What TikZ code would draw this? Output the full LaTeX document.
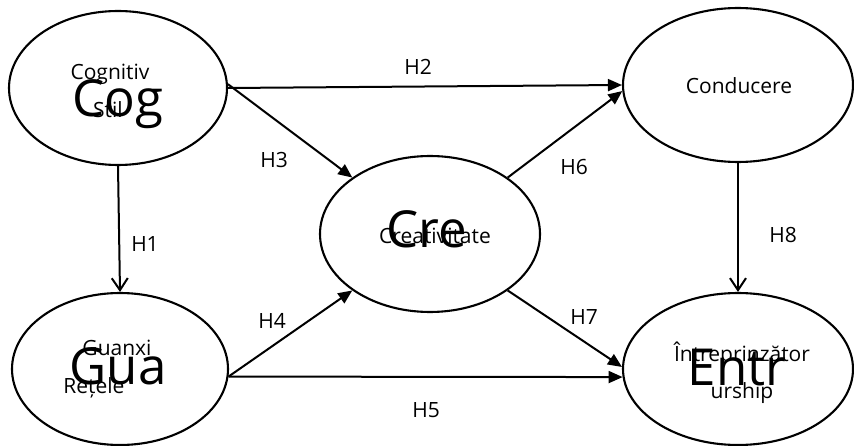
\documentclass[tikz,border=0pt]{standalone}
\usepackage{fontspec}
\setmainfont{Open Sans}
\usetikzlibrary{arrows.meta,shapes.geometric}

\begin{document}
\begin{tikzpicture}[x=1pt,y=-1pt,
  construct/.style={draw,ellipse,line width=2.1pt,inner sep=0pt},
  lbl/.style={font=\fontsize{21}{25}\selectfont,anchor=base,inner sep=0pt},
  big/.style={font=\fontsize{51}{61}\selectfont,anchor=base,inner sep=0pt},
  hyp/.style={font=\fontsize{21}{25}\selectfont,anchor=base,inner sep=0pt},
  path/.style={line width=2pt,-{Triangle[length=14pt,width=12pt]}},
  vpath/.style={line width=2pt,-{Straight Barb[length=12pt,width=16pt,line width=2pt]}}]
\useasboundingbox (0,0) rectangle (854,446);
% --- the five constructs ---
\node[construct,minimum width=218pt,minimum height=154pt] (cog)  at (118,88)  {};
\node[construct,minimum width=216pt,minimum height=152pt] (gua)  at (120,369) {};
\node[construct,minimum width=220pt,minimum height=156pt] (cre)  at (430,234) {};
\node[construct,minimum width=230pt,minimum height=154pt] (cond) at (738,85)  {};
\node[construct,minimum width=230pt,minimum height=152pt] (entr) at (738,369) {};
% --- texts inside, big labels under the small ones ---
\node[big] (cogbig)  at (118,117) {Cog};
\node[lbl] (cogtop)  at (110,80)  {Cognitiv};
\node[lbl] (cogbot)  at (108,118) {Stil};
\node[big] (guabig)  at (118,384) {Gua};
\node[lbl] (guatop)  at (117,355) {Guanxi};
\node[lbl] (guabot)  at (94,393)  {Rețele};
\node[big] (crebig)  at (427,248) {Cre};
\node[lbl] (cretxt)  at (435,244) {Creativitate};
\node[lbl] (condtxt) at (739,94)  {Conducere};
\node[big] (entrbig) at (737,385) {Entr};
\node[lbl] (entrtop) at (742,361) {Întreprinzător};
\node[lbl] (entrbot) at (742,398) {urship};
% --- hypothesised paths ---
\draw[vpath] (cog.south) -- (gua.north);
\draw[path] (cog.east) -- (cond.west);
\draw[path] (cog.2) -- (cre.144);
\draw[path] (gua.-4) -- (cre.216);
\draw[path] (gua.-4) -- (entr.184);
\draw[path] (cre.36) -- (cond.183);
\draw[path] (cre.-36) -- (entr.179);
\draw[vpath] (cond.south) -- (entr.north);
% --- hypothesis labels ---
\node[hyp] (h1) at (145,252) {H1};
\node[hyp] (h2) at (418,75)  {H2};
\node[hyp] (h3) at (274,168) {H3};
\node[hyp] (h4) at (272,328) {H4};
\node[hyp] (h5) at (426,417) {H5};
\node[hyp] (h6) at (574,175) {H6};
\node[hyp] (h7) at (584,325) {H7};
\node[hyp] (h8) at (783,243) {H8};
\end{tikzpicture}
\end{document}
